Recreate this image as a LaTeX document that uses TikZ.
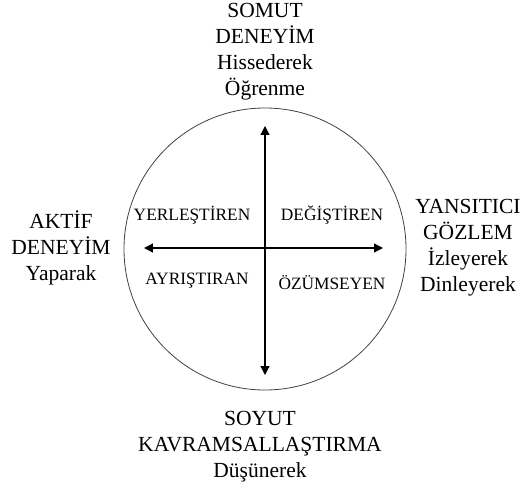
\documentclass[tikz,border=0pt]{standalone}
\usepackage{fontspec}
\setmainfont{Liberation Serif}
\usetikzlibrary{arrows.meta}
\tikzset{axis/.style={line width=1.2bp, {Triangle[length=9pt,width=9pt]}-{Triangle[length=9pt,width=9pt]}}}
\tikzset{ring/.style={thick, black!75}}
\tikzset{pole/.style={align=center, inner sep=0pt, font=\fontsize{21.6}{26}\selectfont}}
\tikzset{kind/.style={inner sep=0pt, font=\fontsize{17.4}{20}\selectfont}}

\begin{document}
\begin{tikzpicture}[x=1bp,y=-1bp]
  \useasboundingbox (0,0) rectangle (523,490);
  \coordinate (o) at (265,249);
  \draw[ring] (o) circle[radius=141bp];

  % axis ends
  \coordinate (up) at (265,126);
  \coordinate (down) at (265,375);
  \coordinate (left) at (144,248);
  \coordinate (right) at (383,248);
  \draw[axis] (down) -- (up);
  \draw[axis] (left) -- (right);

  \node (somut) at (265,52)[pole]{SOMUT\\DENEYİM\\Hissederek\\Öğrenme};
  \node (aktif) at (61,248)[pole]{AKTİF\\DENEYİM\\Yaparak};
  \node (yans) at (468,248)[pole]{YANSITICI\\GÖZLEM\\İzleyerek\\Dinleyerek};
  \node (soyut) at (260,447)[pole]{SOYUT\\KAVRAMSALLAŞTIRMA\\Düşünerek};

  \node (yer) at (192,215)[kind]{YERLEŞTİREN};
  \node (deg) at (332,215)[kind]{DEĞİŞTİREN};
  \node (ayr) at (197,281)[kind]{AYRIŞTIRAN};
  \node (ozu) at (332,283)[kind]{ÖZÜMSEYEN};
\end{tikzpicture}
\end{document}
